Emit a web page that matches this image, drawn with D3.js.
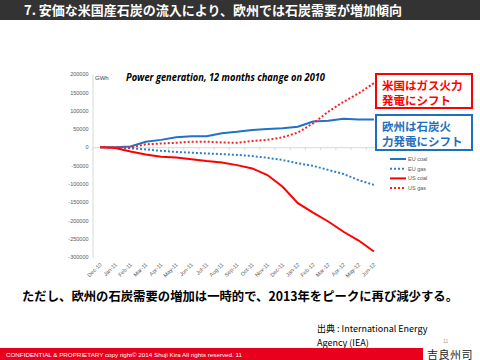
<!DOCTYPE html>
<html><head><meta charset="utf-8">
<script src="https://cdn.jsdelivr.net/npm/d3@7"></script>
<style>body{margin:0;background:#fff}svg{display:block}</style>
</head><body>
<script>
const categories = ["Dec-10","Jan-11","Feb-11","Mar-11","Apr-11","May-11","Jun-11","Jul-11","Aug-11","Sep-11","Oct-11","Nov-11","Dec-11","Jan-12","Feb-12","Mar-12","Apr-12","May-12","Jun-12"];
const euCoal = [0, 0, 2000, 15000, 20000, 27000, 30000, 30000, 38000, 42000, 47000, 50000, 52000, 56000, 70000, 72000, 78000, 76000, 76000];
const euGas  = [0, 0, -3000, -6000, -10000, -13000, -15000, -17000, -19000, -21000, -24000, -29000, -35000, -44000, -51000, -62000, -73000, -90000, -103000];
const usCoal = [0, -2000, -12000, -20000, -26000, -28000, -33000, -38000, -42000, -49000, -58000, -76000, -108000, -153000, -179000, -203000, -231000, -255000, -285000];
const usGas  = [0, 0, -1000, 8000, 10000, 12000, 15000, 15000, 13000, 12000, 17000, 20000, 27000, 40000, 65000, 97000, 124000, 147000, 175000];
const yTicks = [200000,150000,100000,50000,0,-50000,-100000,-150000,-200000,-250000,-300000];
const seriesNames = ["EU coal","EU gas","US coal","US gas"];

const W=480,H=360;
const svg=d3.select("body").append("svg").attr("width",W).attr("height",H);
const jp='"Noto Sans CJK JP","Noto Sans",sans-serif';

// header
svg.append("rect").attr("x",0).attr("y",0).attr("width",W).attr("height",20).attr("fill","#333333");
svg.append("text").attr("x",24).attr("y",15).attr("fill","#fff").attr("font-family",jp).attr("font-weight","bold")
  .attr("font-size",13).attr("textLength",378).attr("lengthAdjust","spacingAndGlyphs")
  .text("7. 安価な米国産石炭の流入により、欧州では石炭需要が増加傾向");

// scales
const x=d3.scaleBand().domain(categories).range([92.5,381.5]);
const y=d3.scaleLinear().domain([-300000,200000]).range([257,74]);
const cx=d=>x(d)+x.bandwidth()/2;

// y axis
const ya=svg.append("g").attr("transform","translate(92.5,0)")
  .call(d3.axisLeft(y).tickValues(yTicks).tickSize(0).tickPadding(4).tickFormat(d=>String(d)));
ya.select(".domain").attr("stroke","#d9d9d9");
ya.selectAll("text").attr("fill","#595959").attr("font-size",5.5).attr("font-family","Liberation Sans, Arial, sans-serif");

// x axis on zero line
const xa=svg.append("g").attr("transform",`translate(0,${y(0)})`)
  .call(d3.axisBottom(x).tickSize(3).tickFormat(""));
xa.select(".domain").attr("stroke","#d9d9d9");
xa.selectAll(".tick line").attr("stroke","#d9d9d9").attr("transform",`translate(${x.bandwidth()/2},0)`);
svg.append("g").selectAll("text").data(categories).join("text")
  .attr("transform",d=>`translate(${cx(d)+2},${265}) rotate(-45)`)
  .attr("text-anchor","end").attr("font-size",5.5).attr("fill","#595959")
  .attr("font-family","Liberation Sans, Arial, sans-serif").text(d=>d);

// lines
const series=[
  {name:seriesNames[0],values:euCoal,color:"#1f72c8",dash:null},
  {name:seriesNames[1],values:euGas,color:"#2f7fd0",dash:"2,2"},
  {name:seriesNames[2],values:usCoal,color:"#ff0000",dash:null},
  {name:seriesNames[3],values:usGas,color:"#ff2020",dash:"2,2"}
];
const line=d3.line().x((d,i)=>cx(categories[i])).y(d=>y(d));
svg.append("g").selectAll("path").data(series).join("path")
  .attr("d",s=>line(s.values)).attr("fill","none").attr("stroke",s=>s.color)
  .attr("stroke-width",2).attr("stroke-dasharray",s=>s.dash);

// legend
const lg=svg.append("g").selectAll("g").data(series).join("g")
  .attr("transform",(s,i)=>`translate(390,${159+i*9.7})`);
lg.append("line").attr("x1",0).attr("x2",16).attr("stroke",s=>s.color).attr("stroke-width",2).attr("stroke-dasharray",s=>s.dash);
lg.append("text").attr("x",18).attr("y",2).attr("font-size",5.5).attr("fill","#595959")
  .attr("font-family","Liberation Sans, Arial, sans-serif").text(s=>s.name);

// titles
svg.append("text").attr("x",95).attr("y",80).attr("font-size",6).attr("fill","#404040")
  .attr("font-family","Liberation Sans, Arial, sans-serif").text("GWh");
svg.append("text").attr("x",126).attr("y",80.5).attr("font-size",10).attr("font-style","italic").attr("font-weight","bold")
  .attr("fill","#000").attr("font-family","Open Sans, sans-serif").attr("textLength",199).attr("lengthAdjust","spacingAndGlyphs")
  .text("Power generation, 12 months change on 2010");

// annotation boxes
function box(x0,y0,w,h,color,lines){
  svg.append("rect").attr("x",x0).attr("y",y0).attr("width",w).attr("height",h)
    .attr("fill","#fff").attr("stroke",color).attr("stroke-width",2);
  lines.forEach((t,i)=>svg.append("text").attr("x",x0+6).attr("y",y0+16+i*14.5)
    .attr("fill",color).attr("font-family",jp).attr("font-weight","bold").attr("font-size",11.5).text(t));
}
box(376,74,96,34,"#ff0000",["米国はガス火力","発電にシフト"]);
box(376,115,96,35,"#1f6fc0",["欧州は石炭火","力発電にシフト"]);

// bottom text
svg.append("text").attr("x",22).attr("y",301).attr("font-family",jp).attr("font-weight","bold").attr("font-size",12.5)
  .attr("fill","#000").attr("textLength",436).attr("lengthAdjust","spacingAndGlyphs")
  .text("ただし、欧州の石炭需要の増加は一時的で、2013年をピークに再び減少する。");
svg.append("text").attr("x",317).attr("y",332).attr("font-family",jp).attr("font-size",9).attr("fill","#000")
  .text("出典 : International Energy");
svg.append("text").attr("x",317).attr("y",346).attr("font-family",jp).attr("font-size",9).attr("fill","#000")
  .text("Agency (IEA)");

// footer
svg.append("rect").attr("x",0).attr("y",348).attr("width",423).attr("height",12).attr("fill","#e8001c");
svg.append("text").attr("x",6).attr("y",356.5).attr("fill","#fff").attr("font-size",5.5)
  .attr("font-family","Liberation Sans, Arial, sans-serif").attr("textLength",236).attr("lengthAdjust","spacingAndGlyphs")
  .text("CONFIDENTIAL & PROPRIETARY  copy right© 2014  Shuji Kira All rights reserved.  11");
svg.append("text").attr("x",443).attr("y",343).attr("fill","#a0a0a0").attr("font-size",5)
  .attr("font-family","Liberation Sans, Arial, sans-serif").text("11");
svg.append("text").attr("x",427).attr("y",358.5).attr("fill","#222").attr("font-size",11)
  .attr("font-family",jp).attr("letter-spacing",0.5).text("吉良州司");
</script>
</body></html>
